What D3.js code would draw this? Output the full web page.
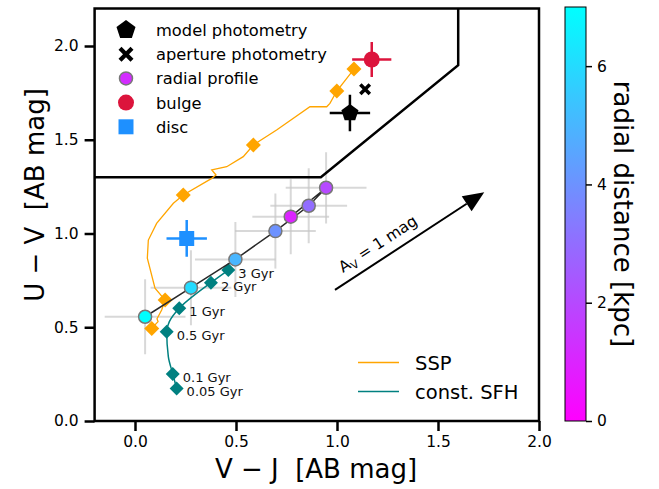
<!DOCTYPE html>
<html>
<head>
<meta charset="utf-8">
<script src="https://cdn.jsdelivr.net/npm/d3@7"></script>
<style>
  body { margin: 0; background: #fff; }
  svg { font-family: "DejaVu Sans", sans-serif; }
</style>
</head>
<body>
<div id="chart"></div>
<script>
// UVJ diagram: SSP / constant SFH tracks, radial colour profile and photometry

// SSP track (V-J, U-V)
const sspVJ = [0.083, 0.114, 0.109, 0.132, 0.149, 0.099, 0.061, 0.066, 0.107, 0.190, 0.239, 0.380, 0.401, 0.380, 0.454, 0.536, 0.586, 0.701, 0.866, 0.949, 0.965, 0.999, 1.084];
const sspUV = [0.494, 0.530, 0.545, 0.592, 0.645, 0.708, 0.868, 0.965, 1.054, 1.161, 1.205, 1.294, 1.312, 1.339, 1.356, 1.410, 1.472, 1.552, 1.676, 1.676, 1.694, 1.760, 1.877];
// SSP marker positions (diamonds)
const sspMarkVJ = [0.083, 0.149, 0.239, 0.586, 0.999, 1.084];
const sspMarkUV = [0.494, 0.645, 1.205, 1.472, 1.760, 1.877];

// constant SFH track
const sfhVJ = [0.206, 0.187, 0.165, 0.157, 0.170, 0.219, 0.376, 0.462];
const sfhUV = [0.174, 0.251, 0.343, 0.476, 0.530, 0.601, 0.738, 0.805];
const sfhAges = ["0.05 Gyr", "0.1 Gyr", "0.5 Gyr", "1 Gyr", "2 Gyr", "3 Gyr"];
const sfhAgeVJ = [0.206, 0.187, 0.157, 0.219, 0.376, 0.462];
const sfhAgeUV = [0.174, 0.251, 0.476, 0.601, 0.738, 0.805];

// radial profile
const radR = [1, 2, 3, 4, 5, 6, 7];
const radVJ = [0.771, 0.946, 0.860, 0.695, 0.497, 0.277, 0.050];
const radUV = [1.090, 1.244, 1.148, 1.013, 0.862, 0.711, 0.556];
const radErrVJ = [0.19, 0.20, 0.19, 0.20, 0.20, 0.20, 0.20];
const radErrUV = [0.20, 0.19, 0.20, 0.20, 0.20, 0.20, 0.20];

// single points: [V-J, U-V, errVJ, errUV]
const modelPhot = [1.064, 1.643, 0.10, 0.097];
const aperturePhot = [1.139, 1.769];
const bulge = [1.172, 1.928, 0.097, 0.093];
const disc = [0.256, 0.974, 0.10, 0.098];

// quiescent selection box (U-V > 1.3, V-J < 1.6, U-V > 0.88 (V-J) + 0.49)
const boxVJ = [-0.2, 0.920, 1.6, 1.6];
const boxUV = [1.3, 1.3, 1.898, 2.2];

// A_V = 1 mag arrow
const arrowVJ = [0.99, 1.729];
const arrowUV = [0.699, 1.220];

const xTicks = [0.0, 0.5, 1.0, 1.5, 2.0];
const yTicks = [0.0, 0.5, 1.0, 1.5, 2.0];
const cbTicks = [0, 2, 4, 6];

const legendLabels = ["model photometry", "aperture photometry", "radial profile", "bulge", "disc"];
const lineLegendLabels = ["SSP", "const. SFH"];

const width = 659, height = 489;
const margin = {left: 94.6, right: 120, top: 8.5, bottom: 68};

const x = d3.scaleLinear().domain([-0.2, 2.0]).range([margin.left, 539]);
const y = d3.scaleLinear().domain([0, 2.2]).range([421, margin.top]);
const cmap = d3.scaleLinear().domain([0, 7]).range(["#ff00ff", "#00ffff"]);
const cbY = d3.scaleLinear().domain([0, 7]).range([421, 7]);

const svg = d3.select("#chart").append("svg")
  .attr("width", width).attr("height", height);

svg.append("clipPath").attr("id", "plotclip")
  .append("rect").attr("x", x(-0.2)).attr("y", y(2.2))
  .attr("width", x(2.0) - x(-0.2)).attr("height", y(0) - y(2.2));

const plot = svg.append("g").attr("clip-path", "url(#plotclip)");

// marker path helpers
function diamond(r) { return `M0,${-r}L${r},0L0,${r}L${-r},0Z`; }
function pentagon(r) {
  let pts = d3.range(5).map(i => {
    let a = -Math.PI / 2 + i * 2 * Math.PI / 5;
    return [r * Math.cos(a), r * Math.sin(a)];
  });
  return "M" + pts.map(p => p.join(",")).join("L") + "Z";
}
function xMark(r, w) {
  // filled thick X
  return `M${-r + w},${-r}L0,${-w}L${r - w},${-r}L${r},${-r + w}L${w},0L${r},${r - w}L${r - w},${r}L0,${w}L${-r + w},${r}L${-r},${r - w}L${-w},0L${-r},${-r + w}Z`;
}

// radial profile error bars
radR.forEach((r, i) => {
  plot.append("line")
    .attr("x1", x(radVJ[i] - radErrVJ[i])).attr("x2", x(radVJ[i] + radErrVJ[i]))
    .attr("y1", y(radUV[i])).attr("y2", y(radUV[i]))
    .attr("stroke", "#c8c8c8").attr("stroke-opacity", 0.7).attr("stroke-width", 2);
  plot.append("line")
    .attr("x1", x(radVJ[i])).attr("x2", x(radVJ[i]))
    .attr("y1", y(radUV[i] - radErrUV[i])).attr("y2", y(radUV[i] + radErrUV[i]))
    .attr("stroke", "#c8c8c8").attr("stroke-opacity", 0.7).attr("stroke-width", 2);
});

// selection box
plot.append("path")
  .attr("d", d3.line().x((d, i) => x(boxVJ[i])).y((d, i) => y(boxUV[i]))(boxVJ))
  .attr("fill", "none").attr("stroke", "#000").attr("stroke-width", 2.5);

// SSP track
plot.append("path")
  .attr("d", d3.line().x((d, i) => x(sspVJ[i])).y((d, i) => y(sspUV[i]))(sspVJ))
  .attr("fill", "none").attr("stroke", "orange").attr("stroke-width", 1.3);
sspMarkVJ.forEach((v, i) => {
  plot.append("path").attr("d", diamond(7.5))
    .attr("transform", `translate(${x(v)},${y(sspMarkUV[i])})`)
    .attr("fill", "orange");
});

// constant SFH track
plot.append("path")
  .attr("d", d3.line().curve(d3.curveMonotoneY).x((d, i) => x(sfhVJ[i])).y((d, i) => y(sfhUV[i]))(sfhVJ))
  .attr("fill", "none").attr("stroke", "teal").attr("stroke-width", 1.5);
sfhAgeVJ.forEach((v, i) => {
  plot.append("path").attr("d", diamond(7))
    .attr("transform", `translate(${x(v)},${y(sfhAgeUV[i])})`)
    .attr("fill", "teal");
  svg.append("text")
    .attr("x", x(v) + 10).attr("y", y(sfhAgeUV[i]) + 8)
    .attr("font-size", 13).attr("fill", "#111")
    .text(sfhAges[i]);
});

// radial profile line and points
plot.append("path")
  .attr("d", d3.line().x((d, i) => x(radVJ[i])).y((d, i) => y(radUV[i]))(radR))
  .attr("fill", "none").attr("stroke", "#2a2a2a").attr("stroke-width", 1.5);
radR.forEach((r, i) => {
  plot.append("circle")
    .attr("cx", x(radVJ[i])).attr("cy", y(radUV[i])).attr("r", 6.5)
    .attr("fill", cmap(r)).attr("stroke", "#777").attr("stroke-width", 1.5);
});

// point with error bars
function errPoint(p, color, shape) {
  plot.append("line")
    .attr("x1", x(p[0] - p[2])).attr("x2", x(p[0] + p[2]))
    .attr("y1", y(p[1])).attr("y2", y(p[1]))
    .attr("stroke", color).attr("stroke-width", 2.5);
  plot.append("line")
    .attr("x1", x(p[0])).attr("x2", x(p[0]))
    .attr("y1", y(p[1] - p[3])).attr("y2", y(p[1] + p[3]))
    .attr("stroke", color).attr("stroke-width", 2.5);
  plot.append("path").attr("d", shape)
    .attr("transform", `translate(${x(p[0])},${y(p[1])})`)
    .attr("fill", color);
}
errPoint(disc, "#1e90ff", "M-7.5,-7.5H7.5V7.5H-7.5Z");
errPoint(modelPhot, "#000", pentagon(9));
errPoint(bulge, "#dc143c", d3.symbol(d3.symbolCircle, Math.PI * 8 * 8)());
plot.append("path").attr("d", xMark(6, 2.5))
  .attr("transform", `translate(${x(aperturePhot[0])},${y(aperturePhot[1])})`)
  .attr("fill", "#000");

// A_V arrow
const ax0 = x(arrowVJ[0]), ay0 = y(arrowUV[0]), ax1 = x(arrowVJ[1]), ay1 = y(arrowUV[1]);
const ang = Math.atan2(ay1 - ay0, ax1 - ax0);
const headL = 21, headW = 9;
const bx = ax1 - headL * Math.cos(ang), by = ay1 - headL * Math.sin(ang);
svg.append("line").attr("x1", ax0).attr("y1", ay0).attr("x2", bx).attr("y2", by)
  .attr("stroke", "#000").attr("stroke-width", 2);
svg.append("path")
  .attr("d", `M${ax1},${ay1}L${bx - headW * Math.sin(ang)},${by + headW * Math.cos(ang)}L${bx + headW * Math.sin(ang)},${by - headW * Math.cos(ang)}Z`)
  .attr("fill", "#000");
const avText = svg.append("text")
  .attr("transform", `translate(${343},${273}) rotate(${ang * 180 / Math.PI})`)
  .attr("font-size", 15.5).attr("fill", "#000");
avText.append("tspan").text("A");
avText.append("tspan").attr("font-size", 11).attr("dy", 3.5).text("V");
avText.append("tspan").attr("dy", -3.5).text(" = 1 mag");

// frame
svg.append("rect")
  .attr("x", x(-0.2)).attr("y", y(2.2))
  .attr("width", x(2.0) - x(-0.2)).attr("height", y(0) - y(2.2))
  .attr("fill", "none").attr("stroke", "#000").attr("stroke-width", 2.5);

// axes
const xAxis = svg.append("g").attr("transform", `translate(0,${y(0)})`)
  .call(d3.axisBottom(x).tickValues(xTicks).tickFormat(d3.format(".1f")).tickSize(10).tickPadding(5));
const yAxis = svg.append("g").attr("transform", `translate(${x(-0.2)},0)`)
  .call(d3.axisLeft(y).tickValues(yTicks).tickFormat(d3.format(".1f")).tickSize(10).tickPadding(6));
[xAxis, yAxis].forEach(g => {
  g.select(".domain").remove();
  g.selectAll(".tick line").attr("stroke", "#000").attr("stroke-width", 2.5);
  g.selectAll(".tick text").attr("font-size", 15.5).attr("fill", "#000")
    .attr("font-family", "DejaVu Sans, sans-serif");
});

svg.append("text").attr("x", 316).attr("y", 478).attr("text-anchor", "middle")
  .attr("font-size", 26).attr("xml:space", "preserve").text("V − J  [AB mag]");
svg.append("text").attr("transform", `translate(44,${195}) rotate(-90)`).attr("text-anchor", "middle")
  .attr("font-size", 26).attr("xml:space", "preserve").text("U − V  [AB mag]");

// colorbar
const grad = svg.append("defs").append("linearGradient").attr("id", "cbgrad")
  .attr("x1", 0).attr("y1", 1).attr("x2", 0).attr("y2", 0);
d3.range(0, 7.01, 0.5).forEach(v => {
  grad.append("stop").attr("offset", v / 7).attr("stop-color", cmap(v));
});
svg.append("rect").attr("x", 565).attr("y", cbY(7)).attr("width", 21).attr("height", cbY(0) - cbY(7))
  .attr("fill", "url(#cbgrad)").attr("stroke", "#000").attr("stroke-width", 1);
const cbAxis = svg.append("g").attr("transform", "translate(586,0)")
  .call(d3.axisRight(cbY).tickValues(cbTicks).tickFormat(d3.format("d")).tickSize(6).tickPadding(5));
cbAxis.select(".domain").remove();
cbAxis.selectAll(".tick line").attr("stroke", "#000").attr("stroke-width", 1.5);
cbAxis.selectAll(".tick text").attr("font-size", 15.5).attr("fill", "#000")
  .attr("font-family", "DejaVu Sans, sans-serif");
svg.append("text").attr("transform", `translate(614,${214}) rotate(90)`).attr("text-anchor", "middle")
  .attr("font-size", 26).text("radial distance [kpc]");

// top-left legend
const legShapes = [
  {d: pentagon(10), c: "#000", s: null},
  {d: xMark(7.5, 3), c: "#000", s: null},
  {d: d3.symbol(d3.symbolCircle, Math.PI * 6.5 * 6.5)(), c: cmap(1.2), s: "#777"},
  {d: d3.symbol(d3.symbolCircle, Math.PI * 8 * 8)(), c: "#dc143c", s: null},
  {d: "M-7.5,-7.5H7.5V7.5H-7.5Z", c: "#1e90ff", s: null}
];
legendLabels.forEach((t, i) => {
  const ly = 30 + i * 24.2;
  svg.append("path").attr("d", legShapes[i].d)
    .attr("transform", `translate(126,${ly})`)
    .attr("fill", legShapes[i].c)
    .attr("stroke", legShapes[i].s || "none").attr("stroke-width", 1.5);
  svg.append("text").attr("x", 156).attr("y", ly + 6).attr("font-size", 16.3).text(t);
});

// bottom-right line legend
const lineColors = ["orange", "teal"];
lineLegendLabels.forEach((t, i) => {
  const ly = 362.5 + i * 29;
  svg.append("line").attr("x1", 358).attr("x2", 399).attr("y1", ly).attr("y2", ly)
    .attr("stroke", lineColors[i]).attr("stroke-width", 1.5);
  svg.append("text").attr("x", 415).attr("y", ly + 7).attr("font-size", 19.5).text(t);
});
</script>
</body>
</html>
